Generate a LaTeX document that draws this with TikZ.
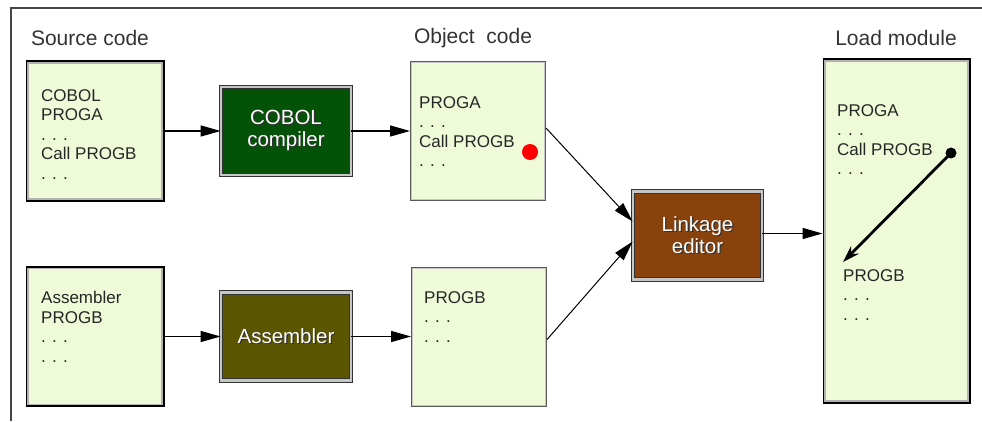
\documentclass[tikz,border=0pt]{standalone}
\usepackage{fontspec}
\setmainfont{Liberation Sans}
\usepackage{xcolor}
\usepackage{tikz}
\usetikzlibrary{arrows.meta,calc,positioning}
\definecolor{codebg}{RGB}{238,250,216}
\definecolor{compgreen}{RGB}{4,82,8}
\definecolor{asmolive}{RGB}{92,86,2}
\definecolor{linkbrown}{RGB}{138,66,12}
\definecolor{framegray}{RGB}{70,70,70}
\newcommand{\shd}[1]{\rlap{\kern1.2pt\raisebox{-1.2pt}{\color{black!80}#1}}#1}

\begin{document}
\begin{tikzpicture}[x=1pt,y=1pt,
  srcbox/.style={draw=black,line width=3pt,fill=codebg,minimum width=136pt,minimum height=138pt},
  objbox/.style={draw=black!65,line width=2pt,fill=codebg,minimum width=134pt,minimum height=138pt},
  procbox/.style={draw=black!80,line width=0.8pt,double=gray!45,double distance=2.5pt,
    minimum width=130pt,minimum height=88pt,text=white,align=center,
    font=\fontsize{20.5}{22}\selectfont},
  code/.style={anchor=north west,inner sep=0pt,align=left,font=\fontsize{17}{19.5}\selectfont,text=black!85},
  head/.style={inner sep=0pt,font=\fontsize{21}{24}\selectfont,text=black!80},
  flow/.style={-{Triangle[length=20pt,width=11pt]},line width=1.3pt}]
  \useasboundingbox (0,0) rectangle (982,421);
  % frame
  \draw[framegray,line width=2pt] (10,413) -- (982,413);
  \draw[framegray,line width=2pt] (11,414) -- (11,0);
  % headings
  \node[head] (hsrc) at (90,383) {Source code};
  \node[head] (hobj) at (473,383) {Object~~code};
  \node[head] (hload) at (896,383) {Load module};
  % boxes
  \node[srcbox] (srcA) at (95,290) {};
  \node[srcbox] (srcB) at (95,84.5) {};
  \node[objbox] (objA) at (478,290) {};
  \node[objbox] (objB) at (479,84.5) {};
  \node[srcbox,minimum width=145pt,minimum height=342pt] (load) at (896.5,190) {};
  \foreach \b in {srcA,srcB,load}
    \draw[gray!60,line width=1.5pt] ([shift={(2.3,-2.3)}]\b.north west) rectangle ([shift={(-2.3,2.3)}]\b.south east);
  \foreach \b in {objA,objB}
    \draw[gray!45,line width=1pt] ([shift={(1.5,-1.5)}]\b.north west) rectangle ([shift={(-1.5,1.5)}]\b.south east);
  \node[procbox,fill=compgreen] (comp) at (286,290) {\shd{COBOL}\\\shd{compiler}};
  \node[procbox,fill=asmolive] (asm) at (286,84.5) {\shd{Assembler}};
  \node[procbox,fill=linkbrown,minimum width=129pt] (link) at (697.5,185.5) {\shd{Linkage}\\\shd{editor}};
  % code listings
  \node[code] (srcAtxt) at (41,332) {COBOL\\PROGA\\. . .\\Call PROGB\\. . .};
  \node[code] (srcBtxt) at (41,130) {Assembler\\PROGB\\. . .\\. . .};
  \node[code] (objAtxt) at (419,325) {PROGA\\. . .\\Call PROGB\\. . .};
  \node[code] (objBtxt) at (424,130) {PROGB\\. . .\\. . .};
  \node[code] (loadAtxt) at (837,317) {PROGA\\. . .\\Call PROGB\\. . .};
  \node[code] (loadBtxt) at (843,152) {PROGB\\. . .\\. . .};
  % unresolved and resolved call
  \fill[red] (530,269) circle (8);
  \coordinate (callB) at (951,268);
  \coordinate (entryB) at (843,159);
  \fill (callB) circle (5.5);
  \draw[-{Stealth[length=17pt,width=11pt]},line width=2.8pt] (callB) -- (entryB);
  % flow
  \draw[flow] (srcA.east) -- (comp.west);
  \draw[flow] (comp.east) -- (objA.west);
  \draw[flow] (srcB.east) -- (asm.west);
  \draw[flow] (asm.east) -- (objB.west);
  \draw[flow,line width=1pt] ([yshift=3]objA.east) -- ([yshift=14]link.west);
  \draw[flow,line width=1pt] ([yshift=-3]objB.east) -- ([yshift=-6]link.west);
  \draw[flow] ([yshift=2]link.east) -- ([yshift=2]link.east -| load.west);
\end{tikzpicture}
\end{document}
